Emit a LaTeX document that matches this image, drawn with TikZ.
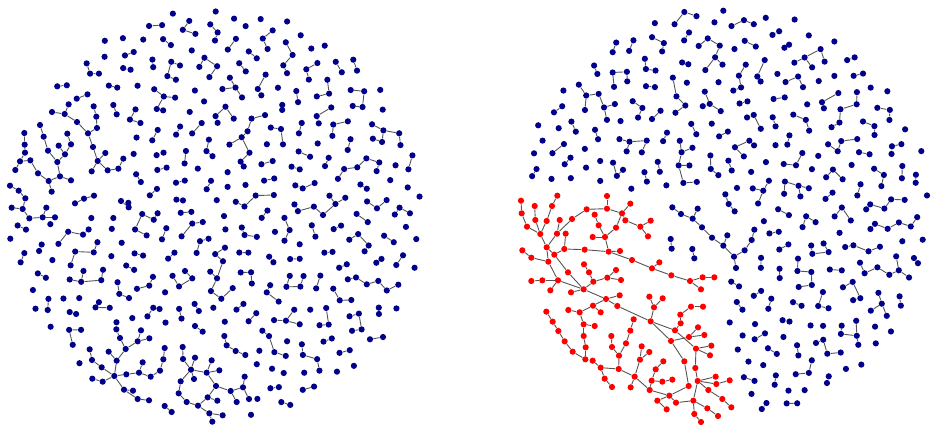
\documentclass[tikz,border=0pt]{standalone}
\definecolor{navyc}{RGB}{0,0,139}
\definecolor{redc}{RGB}{255,0,0}
\definecolor{edgec}{RGB}{85,85,85}
\pgfdeclarelayer{back}
\pgfdeclarelayer{bg}
\pgfsetlayers{back,bg,main}
\tikzset{
  dot/.style={circle,fill=navyc,inner sep=0pt,minimum size=3.1pt},
  rdot/.style={circle,fill=redc,inner sep=0pt,minimum size=3.1pt},
  edge/.style={draw=edgec,line width=0.45pt}
}
\newcommand\rn[3]{\node[rdot] (#1) at ({510+#2/3},{180+#3/3}) {};}
\newcommand\az[3]{\node[dot] (#1) at ({#2/3},{80+#3/3}) {};}
\newcommand\bz[3]{\node[dot] (#1) at ({80+#2/3},{320+#3/3}) {};}
\newcommand\cz[3]{\node[dot] (#1) at ({640+#2/3},{190+#3/3}) {};}
\newcommand\vogel[1]{%
  \pgfmathsetmacro\myr{207*sqrt((#1+0.5)/520)}%
  \pgfmathsetmacro\myf{#1*0.381966}%
  \pgfmathsetmacro\mya{360*(\myf-floor(\myf))}%
  \pgfmathsetmacro\bx{\myr*cos(\mya)}%
  \pgfmathsetmacro\by{\myr*sin(\mya)}}
\newcommand\pickpartner[1]{%
  \pgfmathtruncatemacro\Fa{#1<19 ? 8 : (#1<48 ? 13 : (#1<127 ? 21 : (#1<334 ? 34 : 55)))}%
  \pgfmathtruncatemacro\Fb{#1<19 ? 13 : (#1<48 ? 21 : (#1<78 ? 13 : (#1<127 ? 34 : (#1<205 ? 21 : (#1<334 ? 55 : 34)))))}%
  \pgfmathtruncatemacro\myj{rnd<0.5 ? #1+\Fa : #1+\Fb}%
  \pgfmathsetmacro\myp{#1<420 ? 0.8 : 0.5}%
  \pgfmathtruncatemacro\mye{rnd<\myp ? 1 : 0}}
\newcommand\checknear[1]{%
  \ifnum\myj<520
    \vogel{#1}\let\cx\bx\let\cy\by
    \vogel{\myj}%
    \pgfmathtruncatemacro\near{veclen(\bx-\cx,\by-\cy)<22.5 ? 1 : 0}%
    \ifnum\near=0 \def\mye{0}\fi
  \fi}
% #1 prefix, #2 centre x
\newcommand\makedisc[2]{%
  \foreach \k in {0,...,519}{%
    \pickpartner{\k}%
    \ifcsname #1p\k\endcsname
      \edef\pp{\csname #1p\k\endcsname}%
      \pgfmathtruncatemacro\dd{\k-\pp}%
      \ifnum\dd=\Fa \pgfmathtruncatemacro\myj{\k+\Fb}\else\pgfmathtruncatemacro\myj{\k+\Fa}\fi
      \pgfmathtruncatemacro\mye{(\mye==1)&&(rnd<0.5) ? 1 : 0}%
    \fi
    \checknear{\k}%
    \ifnum\mye=1 \ifnum\myj<520
      \ifcsname #1skip\k\endcsname\else\ifcsname #1skip\myj\endcsname\else
        \expandafter\xdef\csname #1e\k\endcsname{\myj}%
        \expandafter\xdef\csname #1p\myj\endcsname{\k}%
        \ifcsname #1p\k\endcsname\else\expandafter\xdef\csname #1p\k\endcsname{\myj}\fi
      \fi\fi
    \fi\fi
  }%
  \foreach \k in {0,...,519}{%
    \ifcsname #1skip\k\endcsname\else
      \vogel{\k}\let\ax\bx\let\ay\by
      \ifcsname #1p\k\endcsname
        \edef\pp{\csname #1p\k\endcsname}\vogel{\pp}%
        \pgfmathsetmacro\ax{\ax+0.2*(\bx-\ax)}%
        \pgfmathsetmacro\ay{\ay+0.2*(\by-\ay)}%
      \fi
      \pgfmathsetmacro\ax{#2+\ax+2.2*(2*rnd-1)}%
      \pgfmathsetmacro\ay{214+\ay+2.2*(2*rnd-1)}%
      \node[dot] (#1\k) at (\ax,\ay) {};
    \fi
  }%
  \begin{pgfonlayer}{bg}
  \foreach \k in {0,...,519}{%
    \ifcsname #1e\k\endcsname
      \edef\pp{\csname #1e\k\endcsname}%
      \draw[edge] (#1\k) -- (#1\pp);
    \fi
  }%
  \end{pgfonlayer}
}
\begin{document}
\begin{tikzpicture}[x=0.5pt,y=-0.5pt]
\begin{pgfonlayer}{back}
\fill[white] (0,0) rectangle (934,428);
\end{pgfonlayer}
\useasboundingbox (0,0) rectangle (934,428);
\pgfmathsetseed{7}
% ================= left disc =================
\foreach \k in {0,...,519}{
  \vogel{\k}
  \pgfmathsetmacro\px{216+\bx}
  \pgfmathsetmacro\py{214+\by}
  \pgfmathtruncatemacro\inr{(((\px>=8)&&(\px<=128)&&(\py>=100)&&(\py<=222)) || ((\px>=84)&&(\px<=250)&&(\py>=324))) ? 1 : 0}
  \ifnum\inr=1 \expandafter\xdef\csname Lskip\k\endcsname{1}\fi
}
\makedisc{L}{216}
% hand-placed components, upper left
\az{t1}{206}{73}\az{t2}{156}{96}\az{t3}{194}{102}\az{t4}{231}{126}\az{t5}{281}{79}
\az{t6}{289}{110}\az{t7}{291}{144}\az{t8}{264}{160}\az{t9}{279}{201}\az{t10}{316}{219}
\az{t11}{293}{243}\az{t12}{275}{274}\az{t13}{323}{271}\az{t14}{355}{266}\az{t15}{370}{236}
\az{u1}{120}{135}\az{u2}{131}{170}\az{u3}{144}{212}\az{u4}{172}{246}\az{u5}{176}{197}
\az{u6}{213}{193}\az{u7}{202}{161}\az{u8}{195}{223}\az{u9}{180}{289}\az{u10}{146}{303}
\az{u11}{213}{301}\az{u12}{155}{335}\az{u13}{114}{280}\az{u14}{91}{241}\az{u15}{60}{244}
\az{u16}{46}{270}\az{u17}{75}{218}\az{u18}{74}{194}\az{u19}{73}{159}
\az{p1}{340}{75}\az{p2}{350}{103}
\az{c1}{30}{317}\az{c2}{56}{332}\az{c3}{76}{355}\az{c4}{35}{383}\az{c5}{68}{387}
\az{c6}{88}{415}\az{c7}{128}{412}\az{c8}{139}{383}\az{c9}{165}{412}
\az{d1}{225}{370}\az{d2}{252}{356}\az{d3}{282}{347}
\az{s1}{274}{414}\az{s2}{340}{414}\az{q1}{363}{363}\az{q2}{386}{382}
% hand-placed components, bottom
\bz{a1}{109}{28}\bz{a2}{120}{54}\bz{a3}{183}{31}\bz{a4}{208}{55}\bz{a5}{173}{64}
\bz{a6}{137}{87}\bz{a7}{110}{122}\bz{a8}{86}{95}\bz{a9}{29}{88}\bz{a10}{36}{120}
\bz{a11}{65}{142}\bz{a12}{103}{168}\bz{a13}{37}{176}\bz{a14}{68}{185}\bz{a15}{139}{163}
\bz{a16}{177}{158}\bz{a17}{188}{127}\bz{a18}{212}{170}\bz{a19}{240}{152}\bz{a20}{250}{118}
\bz{a21}{254}{84}\bz{a22}{132}{209}\bz{a23}{159}{212}\bz{a24}{173}{237}\bz{a25}{207}{241}
\bz{b1}{308}{81}\bz{b2}{309}{117}\bz{b3}{345}{113}\bz{b4}{333}{149}\bz{b5}{342}{177}
\bz{b6}{380}{158}\bz{b7}{395}{121}\bz{b8}{418}{151}\bz{b9}{408}{198}\bz{b10}{302}{184}
\bz{b11}{296}{220}\bz{b12}{320}{246}\bz{b13}{354}{257}\bz{b14}{383}{232}\bz{b15}{412}{242}
\bz{b16}{388}{280}\bz{b17}{397}{305}\bz{b18}{428}{286}\bz{b19}{452}{213}\bz{b20}{470}{246}
\bz{b21}{489}{202}\bz{b22}{494}{170}\bz{b23}{507}{237}
\bz{e1}{345}{18}\bz{e2}{368}{35}\bz{f1}{433}{48}\bz{f2}{440}{76}\bz{f3}{467}{93}
\bz{f4}{496}{105}\bz{g1}{254}{258}\bz{g2}{275}{276}
\begin{pgfonlayer}{bg}
\foreach \a/\b in {t1/t3,t2/t3,t3/t4,t4/t8,t5/t6,t6/t7,t7/t8,t8/t9,t9/t11,t10/t11,t11/t12,
  t11/t13,t13/t14,t14/t15,u1/u2,u2/u3,u3/u4,u5/u8,u6/u8,u7/u6,u8/u4,u4/u9,u9/u10,u9/u11,
  u10/u12,u13/u10,u14/u13,u15/u14,u17/u15,u15/u16,u18/u17,u19/u18,p1/p2,c1/c2,c2/c3,
  c3/c5,c4/c5,c5/c6,c6/c7,c7/c8,c7/c9,d1/d2,d2/d3,q1/q2,
  a1/a2,a2/a6,a3/a5,a4/a5,a5/a6,a6/a7,a8/a7,a7/a12,a9/a10,a10/a11,a11/a12,a13/a14,a14/a12,
  a12/a15,a15/a16,a16/a17,a16/a18,a18/a19,a19/a20,a20/a21,a12/a22,a22/a23,a22/a24,a24/a25,
  b1/b2,b2/b4,b3/b4,b4/b5,b4/b6,b6/b7,b6/b8,b6/b9,b4/b10,b10/b11,b11/b12,b12/b13,b13/b14,
  b14/b9,b14/b15,b13/b16,b16/b17,b16/b18,b9/b19,b19/b21,b21/b22,b19/b20,b21/b23,
  e1/e2,f1/f2,f2/f3,f3/f4,g1/g2}
  \draw[edge] (\a) -- (\b);
\end{pgfonlayer}
% ================= right disc =================
\foreach \k in {0,...,519}{
  \vogel{\k}
  \pgfmathsetmacro\px{724+\bx}
  \pgfmathsetmacro\py{214+\by}
  \pgfmathtruncatemacro\inr{(((\py>188)&&(\py<265)&&(\px<662)) || ((\py>=265)&&(\py<300)&&(\px<722)) || ((\py>=300)&&(\px<722+0.25*(\py-300))) || ((\px>=664)&&(\px<=756)&&(\py>=190)&&(\py<=272))) ? 1 : 0}
  \ifnum\inr=1 \expandafter\xdef\csname Rskip\k\endcsname{1}\fi
}
\makedisc{R}{724}
% navy tree next to the red component
\cz{n1}{97}{52}\cz{n2}{123}{72}\cz{n3}{158}{86}\cz{n4}{173}{56}\cz{n5}{186}{112}
\cz{n6}{216}{143}\cz{n7}{262}{136}\cz{n8}{250}{167}\cz{n9}{282}{200}\cz{n10}{288}{234}
\cz{n11}{314}{181}\cz{n12}{335}{150}\cz{n13}{343}{119}
\cz{m1}{92}{147}\cz{m2}{95}{176}\cz{m3}{157}{177}\cz{m4}{163}{205}\cz{m5}{256}{13}
\cz{m6}{266}{42}\cz{m7}{284}{64}
\begin{pgfonlayer}{bg}
\foreach \a/\b in {n1/n2,n2/n3,n4/n3,n3/n5,n5/n6,n6/n8,n7/n8,n8/n9,n9/n10,n9/n11,n11/n12,
  n12/n13,m1/m2,m3/m4,m5/m6,m6/m7}
  \draw[edge] (\a) -- (\b);
\end{pgfonlayer}
% ================= red component =================
\rn{r1}{142}{47}\rn{r2}{33}{62}\rn{r3}{74}{78}\rn{r4}{126}{78}\rn{r5}{35}{100}
\rn{r6}{76}{120}\rn{r7}{110}{123}\rn{r8}{51}{140}\rn{r9}{91}{162}\rn{r10}{110}{202}
\rn{r11}{149}{120}\rn{r12}{141}{161}\rn{r13}{167}{161}\rn{r14}{163}{207}\rn{r15}{133}{224}
\rn{r16}{115}{245}\rn{r17}{37}{211}\rn{r18}{64}{233}\rn{r19}{186}{117}\rn{r20}{230}{88}
\rn{r21}{291}{48}\rn{r22}{291}{86}\rn{r23}{254}{104}\rn{r24}{266}{136}\rn{r25}{361}{71}
\rn{r26}{336}{100}\rn{r27}{346}{121}\rn{r28}{318}{143}\rn{r29}{285}{171}\rn{r30}{248}{171}
\rn{r31}{391}{140}\rn{r32}{422}{122}\rn{r33}{414}{169}\rn{r34}{224}{209}\rn{r35}{296}{215}
\rn{r36}{330}{213}\rn{r37}{366}{240}\rn{r38}{426}{265}\rn{r39}{448}{247}\rn{r40}{484}{286}
\rn{r41}{540}{303}\rn{r42}{578}{292}\rn{r43}{613}{292}\rn{r44}{573}{328}\rn{r45}{174}{277}
\rn{r46}{144}{301}\rn{r47}{97}{301}\rn{r48}{64}{303}\rn{r49}{121}{331}\rn{r50}{221}{328}
\rn{r51}{183}{337}\rn{r52}{222}{253}\rn{r53}{237}{277}\rn{r54}{250}{305}\rn{r55}{292}{293}
\rn{r56}{318}{270}\rn{r57}{333}{300}\rn{r58}{288}{357}\rn{r59}{329}{346}\rn{r60}{322}{378}
\rn{r61}{249}{377}\rn{r62}{209}{397}\rn{r63}{175}{390}\rn{r64}{272}{397}\rn{r65}{422}{424}
\rn{r66}{432}{382}\rn{r67}{418}{350}\rn{r68}{458}{355}\rn{r69}{495}{451}\rn{r70}{511}{404}
\rn{r71}{543}{380}\rn{r72}{579}{380}\rn{r73}{512}{430}\rn{r74}{483}{483}\rn{r75}{537}{471}
\rn{r76}{564}{442}\rn{r77}{583}{465}\rn{r78}{558}{506}\rn{r79}{604}{497}\rn{r80}{600}{526}
\rn{r81}{523}{544}\rn{r82}{556}{564}\rn{r83}{563}{603}\rn{r84}{536}{618}\rn{r85}{595}{630}
\rn{r86}{617}{590}\rn{r87}{619}{612}\rn{r88}{659}{601}\rn{r89}{637}{657}\rn{r90}{664}{682}
\rn{r91}{550}{662}\rn{r92}{498}{668}\rn{r93}{478}{647}\rn{r94}{442}{662}\rn{r95}{470}{688}
\rn{r96}{419}{630}\rn{r97}{425}{602}\rn{r98}{437}{568}\rn{r99}{460}{544}\rn{r100}{457}{605}
\rn{r101}{487}{599}\rn{r102}{374}{590}\rn{r103}{390}{539}\rn{r104}{395}{499}\rn{r105}{418}{516}
\rn{r106}{362}{622}\rn{r107}{326}{567}\rn{r108}{327}{527}\rn{r109}{306}{501}\rn{r110}{304}{468}
\rn{r111}{348}{490}\rn{r112}{361}{452}\rn{r113}{371}{418}\rn{r114}{272}{563}\rn{r115}{284}{596}
\rn{r116}{306}{621}\rn{r117}{248}{542}\rn{r118}{226}{538}\rn{r119}{227}{502}\rn{r120}{221}{468}
\rn{r121}{221}{433}\rn{r122}{254}{438}\rn{r124}{188}{515}\rn{r125}{164}{484}\rn{r126}{145}{453}
\rn{r127}{128}{425}\rn{r128}{109}{395}\rn{r129}{553}{702}\rn{r130}{573}{726}\rn{r131}{592}{685}
\rn{r132}{624}{708}
\begin{pgfonlayer}{bg}
\foreach \a/\b in {r1/r4,r4/r7,r7/r9,r3/r6,r6/r9,r2/r5,r5/r8,r8/r9,r9/r10,r10/r12,r11/r12,
  r12/r19,r19/r20,r20/r22,r21/r22,r22/r26,r25/r26,r26/r27,r27/r31,r31/r32,r31/r33,r26/r28,
  r28/r29,r29/r24,r24/r23,r29/r30,r29/r35,r13/r14,r10/r15,r15/r14,r14/r34,r34/r35,r35/r36,
  r35/r37,r37/r38,r38/r39,r38/r40,r40/r41,r41/r42,r42/r43,r41/r44,r10/r16,r17/r18,r18/r16,
  r15/r45,r45/r50,r16/r46,r46/r47,r47/r48,r46/r49,r46/r50,r50/r51,r50/r54,r54/r53,r53/r52,
  r54/r55,r55/r56,r55/r57,r50/r58,r58/r59,r58/r61,r61/r62,r62/r63,r61/r64,r62/r121,
  r121/r122,r121/r120,r120/r119,r119/r118,r118/r117,r124/r118,r128/r127,r127/r126,
  r126/r125,r125/r124,r117/r114,r114/r115,r115/r116,r114/r107,r107/r108,r108/r109,
  r109/r110,r108/r111,r111/r112,r112/r113,r107/r102,r102/r106,r102/r103,r103/r104,
  r103/r105,r102/r96,r58/r60,r60/r65,r65/r66,r66/r67,r66/r68,r65/r69,r65/r74,r69/r73,
  r73/r70,r70/r71,r71/r72,r69/r78,r74/r75,r75/r76,r75/r77,r78/r79,r78/r80,r78/r82,
  r74/r81,r81/r84,r82/r83,r83/r86,r83/r87,r87/r88,r83/r85,r85/r89,r89/r90,r83/r91,
  r91/r129,r129/r130,r91/r131,r131/r132,r91/r92,r92/r93,r84/r93,r93/r96,r93/r94,
  r94/r95,r96/r97,r97/r98,r98/r99,r97/r100,r100/r101}
  \draw[edge] (\a) -- (\b);
\end{pgfonlayer}
\end{tikzpicture}
\end{document}
